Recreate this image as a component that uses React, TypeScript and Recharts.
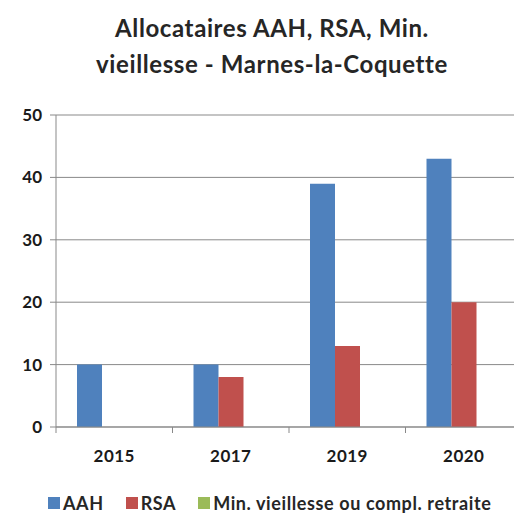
import { Bar, BarChart, CartesianGrid, XAxis, YAxis } from 'recharts'

const years = ['2015', '2017', '2019', '2020']
const aah = [10, 10, 39, 43]
const rsa = [0, 8, 13, 20]
const minVieillesse = [0, 0, 0, 0]
const yTicks = [0, 10, 20, 30, 40, 50]

const SERIES = [
  { key: 'aah', name: 'AAH', color: '#4F81BD' },
  { key: 'rsa', name: 'RSA', color: '#C0504D' },
  { key: 'min', name: 'Min. vieillesse ou compl. retraite', color: '#9BBB59' },
]

const data = years.map((y, i) => ({
  year: y,
  aah: aah[i],
  rsa: rsa[i],
  min: minVieillesse[i],
}))

const FONT = 'Lato, "Open Sans", sans-serif'
const GRID = '#898989'
const TEXT = '#1a1a1a'

// category label + Excel-style tick marks on the boundaries between categories
function YearTick(props: any) {
  const { x, y, payload, width, index } = props
  const half = width / years.length / 2
  return (
    <g>
      {index === 0 && <line x1={x - half} x2={x - half} y1={y - 8} y2={y - 2} stroke={GRID} />}
      <line x1={x + half} x2={x + half} y1={y - 8} y2={y - 2} stroke={GRID} />
      <text x={x} y={y + 27} textAnchor="middle" fill={TEXT} fontSize={17} fontWeight={700} letterSpacing={0.5}>
        {payload.value}
      </text>
    </g>
  )
}

export default function App() {
  return (
    <div style={{ position: 'relative', width: 514, height: 505, fontFamily: FONT }}>
      <div
        style={{
          position: 'absolute',
          top: 2,
          left: 0,
          width: 528,
          textAlign: 'center',
          fontWeight: 700,
          fontSize: 24,
          letterSpacing: 0.6,
          lineHeight: '36px',
          color: '#262626',
        }}
      >
        Allocataires AAH, RSA, Min.
        <br />
        vieillesse - Marnes-la-Coquette
      </div>
      <BarChart
        width={514}
        height={460}
        data={data}
        margin={{ top: 107, right: 0, bottom: 0, left: 0 }}
        barCategoryGap={21}
        barGap={0}
      >
        <CartesianGrid stroke={GRID} vertical={false} />
        <XAxis
          dataKey="year"
          height={41}
          axisLine={{ stroke: GRID }}
          tickLine={false}
          tick={<YearTick />}
        />
        <YAxis
          width={48}
          domain={[0, 50]}
          ticks={yTicks}
          tickSize={6}
          tickLine={{ stroke: GRID }}
          axisLine={{ stroke: GRID }}
          tick={{ fill: TEXT, fontSize: 17, fontWeight: 700, dx: -6 }}
        />
        {SERIES.map((s) => (
          <Bar key={s.key} dataKey={s.key} name={s.name} fill={s.color} isAnimationActive={false} />
        ))}
      </BarChart>
      <div
        style={{
          position: 'absolute',
          top: 485,
          left: 40,
          display: 'flex',
          alignItems: 'center',
          fontSize: 18,
          lineHeight: '20px',
          fontWeight: 700,
          letterSpacing: 0.6,
          color: '#262626',
          whiteSpace: 'nowrap',
        }}
      >
        {SERIES.map((s) => (
          <span key={s.key} style={{ display: 'flex', alignItems: 'center', marginRight: 22 }}>
            <span style={{ width: 12, height: 12, background: s.color, marginRight: 3, display: 'inline-block' }} />
            {s.name}
          </span>
        ))}
      </div>
    </div>
  )
}
